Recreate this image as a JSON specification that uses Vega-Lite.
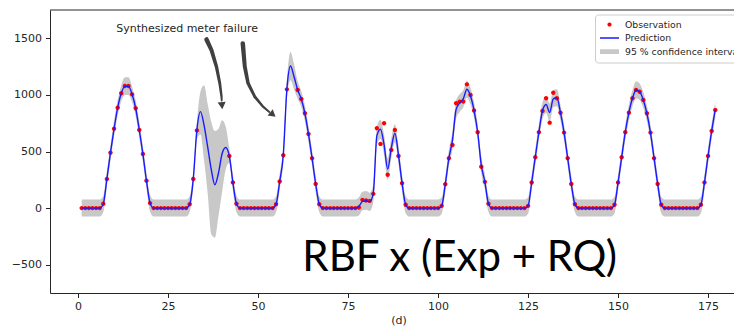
{
  "$schema": "https://vega.github.io/schema/vega-lite/v6.json",
  "width": 684,
  "height": 283,
  "autosize": {"type": "none"},
  "padding": {"left": 50, "top": 10, "right": 0, "bottom": 33},
  "background": "white",
  "config": {
    "view": {"stroke": null},
    "font": "DejaVu Sans",
    "axis": {"labelFont": "DejaVu Sans", "labelFontSize": 11, "labelColor": "#262626", "tickColor": "#262626", "domainColor": "#262626", "tickSize": 4.5, "grid": false, "titleFont": "DejaVu Sans", "titleFontSize": 11, "titleFontWeight": "normal", "titleColor": "#262626"},
    "axisX": {"labelPadding": 3, "titlePadding": 3, "titleX": 348.5, "titleAlign": "center"},
    "axisY": {"labelPadding": 4},
    "legend": {"title": null, "orient": "none", "legendX": 545, "legendY": 4.5, "padding": 5, "strokeColor": "#cccccc", "fillColor": "white", "cornerRadius": 3, "labelFont": "DejaVu Sans", "labelFontSize": 9.3, "labelColor": "#262626", "labelOffset": 6, "symbolSize": 361, "clipHeight": 10, "rowPadding": 2.5, "symbolStrokeWidth": 0, "symbolOpacity": 1}
  },
  "datasets": {
    "series": [
      {"day":1,"obs":0,"pred":0,"lo":-75,"hi":75},
      {"day":2,"obs":0,"pred":0,"lo":-75,"hi":75},
      {"day":3,"obs":0,"pred":0,"lo":-75,"hi":75},
      {"day":4,"obs":0,"pred":0,"lo":-75,"hi":75},
      {"day":5,"obs":0,"pred":0,"lo":-75,"hi":75},
      {"day":6,"obs":0,"pred":0,"lo":-75,"hi":75},
      {"day":7,"obs":38,"pred":38,"lo":-35,"hi":110},
      {"day":8,"obs":258,"pred":258,"lo":188,"hi":328},
      {"day":9,"obs":490,"pred":490,"lo":420,"hi":560},
      {"day":10,"obs":702,"pred":702,"lo":632,"hi":772},
      {"day":11,"obs":887,"pred":887,"lo":817,"hi":957},
      {"day":12,"obs":1014,"pred":1014,"lo":944,"hi":1084},
      {"day":13,"obs":1078,"pred":1075,"lo":1000,"hi":1155},
      {"day":14,"obs":1078,"pred":1075,"lo":1000,"hi":1155},
      {"day":15,"obs":1005,"pred":1005,"lo":935,"hi":1075},
      {"day":16,"obs":882,"pred":882,"lo":812,"hi":952},
      {"day":17,"obs":690,"pred":690,"lo":620,"hi":760},
      {"day":18,"obs":479,"pred":479,"lo":409,"hi":549},
      {"day":19,"obs":241,"pred":241,"lo":171,"hi":311},
      {"day":20,"obs":44,"pred":44,"lo":-30,"hi":115},
      {"day":21,"obs":0,"pred":0,"lo":-75,"hi":75},
      {"day":22,"obs":0,"pred":0,"lo":-75,"hi":75},
      {"day":23,"obs":0,"pred":0,"lo":-75,"hi":75},
      {"day":24,"obs":0,"pred":0,"lo":-75,"hi":75},
      {"day":25,"obs":0,"pred":0,"lo":-75,"hi":75},
      {"day":26,"obs":0,"pred":0,"lo":-75,"hi":75},
      {"day":27,"obs":0,"pred":0,"lo":-75,"hi":75},
      {"day":28,"obs":0,"pred":0,"lo":-75,"hi":75},
      {"day":29,"obs":0,"pred":0,"lo":-75,"hi":75},
      {"day":30,"obs":0,"pred":0,"lo":-75,"hi":75},
      {"day":31,"obs":35,"pred":35,"lo":-35,"hi":105},
      {"day":32,"obs":258,"pred":258,"lo":188,"hi":328},
      {"day":33,"obs":685,"pred":690,"lo":610,"hi":760},
      {"day":34,"obs":null,"pred":852,"lo":650,"hi":1030},
      {"day":35,"obs":null,"pred":730,"lo":420,"hi":1085},
      {"day":36,"obs":null,"pred":540,"lo":130,"hi":920},
      {"day":37,"obs":null,"pred":340,"lo":-230,"hi":760},
      {"day":38,"obs":null,"pred":205,"lo":-260,"hi":680},
      {"day":39,"obs":null,"pred":310,"lo":-70,"hi":700},
      {"day":40,"obs":null,"pred":480,"lo":140,"hi":775},
      {"day":41,"obs":null,"pred":535,"lo":340,"hi":720},
      {"day":42,"obs":461,"pred":461,"lo":400,"hi":530},
      {"day":43,"obs":226,"pred":226,"lo":156,"hi":296},
      {"day":44,"obs":38,"pred":38,"lo":-35,"hi":110},
      {"day":45,"obs":0,"pred":0,"lo":-75,"hi":75},
      {"day":46,"obs":0,"pred":0,"lo":-75,"hi":75},
      {"day":47,"obs":0,"pred":0,"lo":-75,"hi":75},
      {"day":48,"obs":0,"pred":0,"lo":-75,"hi":75},
      {"day":49,"obs":0,"pred":0,"lo":-75,"hi":75},
      {"day":50,"obs":0,"pred":0,"lo":-75,"hi":75},
      {"day":51,"obs":0,"pred":0,"lo":-75,"hi":75},
      {"day":52,"obs":0,"pred":0,"lo":-75,"hi":75},
      {"day":53,"obs":0,"pred":0,"lo":-75,"hi":75},
      {"day":54,"obs":0,"pred":0,"lo":-75,"hi":75},
      {"day":55,"obs":35,"pred":35,"lo":-35,"hi":105},
      {"day":56,"obs":235,"pred":235,"lo":165,"hi":305},
      {"day":57,"obs":467,"pred":467,"lo":397,"hi":537},
      {"day":58,"obs":1049,"pred":1050,"lo":965,"hi":1135},
      {"day":59,"obs":null,"pred":1255,"lo":1130,"hi":1380},
      {"day":60,"obs":null,"pred":1160,"lo":1050,"hi":1270},
      {"day":61,"obs":1043,"pred":1043,"lo":965,"hi":1120},
      {"day":62,"obs":964,"pred":964,"lo":894,"hi":1034},
      {"day":63,"obs":838,"pred":838,"lo":768,"hi":908},
      {"day":64,"obs":655,"pred":655,"lo":585,"hi":725},
      {"day":65,"obs":441,"pred":441,"lo":371,"hi":511},
      {"day":66,"obs":214,"pred":214,"lo":144,"hi":284},
      {"day":67,"obs":35,"pred":35,"lo":-35,"hi":105},
      {"day":68,"obs":0,"pred":0,"lo":-75,"hi":75},
      {"day":69,"obs":0,"pred":0,"lo":-75,"hi":75},
      {"day":70,"obs":0,"pred":0,"lo":-75,"hi":75},
      {"day":71,"obs":0,"pred":0,"lo":-75,"hi":75},
      {"day":72,"obs":0,"pred":0,"lo":-75,"hi":75},
      {"day":73,"obs":0,"pred":0,"lo":-75,"hi":75},
      {"day":74,"obs":0,"pred":0,"lo":-75,"hi":75},
      {"day":75,"obs":0,"pred":0,"lo":-75,"hi":75},
      {"day":76,"obs":0,"pred":0,"lo":-75,"hi":75},
      {"day":77,"obs":0,"pred":0,"lo":-75,"hi":75},
      {"day":78,"obs":5,"pred":15,"lo":-65,"hi":95},
      {"day":79,"obs":73,"pred":60,"lo":-20,"hi":145},
      {"day":80,"obs":67,"pred":65,"lo":-15,"hi":150},
      {"day":81,"obs":64,"pred":55,"lo":-25,"hi":135},
      {"day":82,"obs":126,"pred":130,"lo":50,"hi":210},
      {"day":83,"obs":705,"pred":640,"lo":560,"hi":720},
      {"day":84,"obs":567,"pred":697,"lo":610,"hi":780},
      {"day":85,"obs":750,"pred":560,"lo":470,"hi":650},
      {"day":86,"obs":294,"pred":344,"lo":250,"hi":440},
      {"day":87,"obs":514,"pred":529,"lo":440,"hi":620},
      {"day":88,"obs":690,"pred":661,"lo":580,"hi":740},
      {"day":89,"obs":461,"pred":470,"lo":390,"hi":550},
      {"day":90,"obs":220,"pred":220,"lo":145,"hi":295},
      {"day":91,"obs":29,"pred":29,"lo":-45,"hi":105},
      {"day":92,"obs":0,"pred":0,"lo":-75,"hi":75},
      {"day":93,"obs":0,"pred":0,"lo":-75,"hi":75},
      {"day":94,"obs":0,"pred":0,"lo":-75,"hi":75},
      {"day":95,"obs":0,"pred":0,"lo":-75,"hi":75},
      {"day":96,"obs":0,"pred":0,"lo":-75,"hi":75},
      {"day":97,"obs":0,"pred":0,"lo":-75,"hi":75},
      {"day":98,"obs":0,"pred":0,"lo":-75,"hi":75},
      {"day":99,"obs":0,"pred":0,"lo":-75,"hi":75},
      {"day":100,"obs":0,"pred":0,"lo":-75,"hi":75},
      {"day":101,"obs":20,"pred":20,"lo":-50,"hi":95},
      {"day":102,"obs":211,"pred":211,"lo":141,"hi":281},
      {"day":103,"obs":441,"pred":441,"lo":371,"hi":511},
      {"day":104,"obs":558,"pred":600,"lo":520,"hi":680},
      {"day":105,"obs":926,"pred":870,"lo":790,"hi":950},
      {"day":106,"obs":941,"pred":930,"lo":850,"hi":1005},
      {"day":107,"obs":941,"pred":965,"lo":890,"hi":1040},
      {"day":108,"obs":1093,"pred":1050,"lo":975,"hi":1125},
      {"day":109,"obs":999,"pred":990,"lo":915,"hi":1065},
      {"day":110,"obs":862,"pred":862,"lo":792,"hi":932},
      {"day":111,"obs":670,"pred":670,"lo":600,"hi":740},
      {"day":112,"obs":365,"pred":380,"lo":305,"hi":455},
      {"day":113,"obs":232,"pred":232,"lo":162,"hi":302},
      {"day":114,"obs":38,"pred":38,"lo":-35,"hi":110},
      {"day":115,"obs":0,"pred":0,"lo":-75,"hi":75},
      {"day":116,"obs":0,"pred":0,"lo":-75,"hi":75},
      {"day":117,"obs":0,"pred":0,"lo":-75,"hi":75},
      {"day":118,"obs":0,"pred":0,"lo":-75,"hi":75},
      {"day":119,"obs":0,"pred":0,"lo":-75,"hi":75},
      {"day":120,"obs":0,"pred":0,"lo":-75,"hi":75},
      {"day":121,"obs":0,"pred":0,"lo":-75,"hi":75},
      {"day":122,"obs":0,"pred":0,"lo":-75,"hi":75},
      {"day":123,"obs":0,"pred":0,"lo":-75,"hi":75},
      {"day":124,"obs":0,"pred":0,"lo":-75,"hi":75},
      {"day":125,"obs":20,"pred":20,"lo":-50,"hi":95},
      {"day":126,"obs":226,"pred":226,"lo":156,"hi":296},
      {"day":127,"obs":450,"pred":450,"lo":380,"hi":520},
      {"day":128,"obs":670,"pred":670,"lo":600,"hi":740},
      {"day":129,"obs":858,"pred":860,"lo":785,"hi":935},
      {"day":130,"obs":970,"pred":915,"lo":840,"hi":990},
      {"day":131,"obs":755,"pred":845,"lo":765,"hi":925},
      {"day":132,"obs":1019,"pred":965,"lo":890,"hi":1040},
      {"day":133,"obs":970,"pred":975,"lo":900,"hi":1050},
      {"day":134,"obs":843,"pred":843,"lo":773,"hi":913},
      {"day":135,"obs":667,"pred":667,"lo":597,"hi":737},
      {"day":136,"obs":441,"pred":441,"lo":371,"hi":511},
      {"day":137,"obs":214,"pred":214,"lo":144,"hi":284},
      {"day":138,"obs":35,"pred":35,"lo":-35,"hi":105},
      {"day":139,"obs":0,"pred":0,"lo":-75,"hi":75},
      {"day":140,"obs":0,"pred":0,"lo":-75,"hi":75},
      {"day":141,"obs":0,"pred":0,"lo":-75,"hi":75},
      {"day":142,"obs":0,"pred":0,"lo":-75,"hi":75},
      {"day":143,"obs":0,"pred":0,"lo":-75,"hi":75},
      {"day":144,"obs":0,"pred":0,"lo":-75,"hi":75},
      {"day":145,"obs":0,"pred":0,"lo":-75,"hi":75},
      {"day":146,"obs":0,"pred":0,"lo":-75,"hi":75},
      {"day":147,"obs":0,"pred":0,"lo":-75,"hi":75},
      {"day":148,"obs":0,"pred":0,"lo":-75,"hi":75},
      {"day":149,"obs":29,"pred":29,"lo":-45,"hi":100},
      {"day":150,"obs":226,"pred":226,"lo":156,"hi":296},
      {"day":151,"obs":450,"pred":450,"lo":380,"hi":520},
      {"day":152,"obs":670,"pred":670,"lo":600,"hi":740},
      {"day":153,"obs":843,"pred":843,"lo":773,"hi":913},
      {"day":154,"obs":970,"pred":970,"lo":900,"hi":1040},
      {"day":155,"obs":1043,"pred":1043,"lo":968,"hi":1120},
      {"day":156,"obs":1028,"pred":1028,"lo":955,"hi":1100},
      {"day":157,"obs":955,"pred":955,"lo":885,"hi":1025},
      {"day":158,"obs":838,"pred":838,"lo":768,"hi":908},
      {"day":159,"obs":667,"pred":667,"lo":597,"hi":737},
      {"day":160,"obs":441,"pred":441,"lo":371,"hi":511},
      {"day":161,"obs":214,"pred":214,"lo":144,"hi":284},
      {"day":162,"obs":29,"pred":29,"lo":-45,"hi":100},
      {"day":163,"obs":0,"pred":0,"lo":-75,"hi":75},
      {"day":164,"obs":0,"pred":0,"lo":-75,"hi":75},
      {"day":165,"obs":0,"pred":0,"lo":-75,"hi":75},
      {"day":166,"obs":0,"pred":0,"lo":-75,"hi":75},
      {"day":167,"obs":0,"pred":0,"lo":-75,"hi":75},
      {"day":168,"obs":0,"pred":0,"lo":-75,"hi":75},
      {"day":169,"obs":0,"pred":0,"lo":-75,"hi":75},
      {"day":170,"obs":0,"pred":0,"lo":-75,"hi":75},
      {"day":171,"obs":0,"pred":0,"lo":-75,"hi":75},
      {"day":172,"obs":0,"pred":0,"lo":-75,"hi":75},
      {"day":173,"obs":29,"pred":29,"lo":-45,"hi":100},
      {"day":174,"obs":226,"pred":226,"lo":156,"hi":296},
      {"day":175,"obs":461,"pred":461,"lo":391,"hi":531},
      {"day":176,"obs":681,"pred":681,"lo":611,"hi":751},
      {"day":177,"obs":867,"pred":867,"lo":797,"hi":937}
    ],
    "arrows": [
      {"arrow":1,"step":0,"x":35.67,"y":1490},
      {"arrow":1,"step":1,"x":37.06,"y":1396},
      {"arrow":1,"step":2,"x":38.44,"y":1249},
      {"arrow":1,"step":3,"x":39.36,"y":1102},
      {"arrow":1,"step":4,"x":39.83,"y":990},
      {"arrow":1,"step":5,"x":39.9,"y":950},
      {"arrow":2,"step":0,"x":45.75,"y":1455},
      {"arrow":2,"step":1,"x":46.31,"y":1249},
      {"arrow":2,"step":2,"x":47.22,"y":1102},
      {"arrow":2,"step":3,"x":49.08,"y":984},
      {"arrow":2,"step":4,"x":51.39,"y":896},
      {"arrow":2,"step":5,"x":53.11,"y":849}
    ]
  },
  "layer": [
    {
      "data": {"name": "series"},
      "mark": {"type": "area", "interpolate": "monotone", "opacity": 1},
      "encoding": {
        "x": {"field": "day", "type": "quantitative", "scale": {"domain": [-7.8, 182.2], "nice": false, "zero": false}, "axis": {"values": [0, 25, 50, 75, 100, 125, 150, 175], "title": "(d)"}},
        "y": {"field": "lo", "type": "quantitative", "scale": {"domain": [-750, 1750], "nice": false, "zero": false}, "axis": {"values": [-500, 0, 500, 1000, 1500], "format": "d", "title": null}},
        "y2": {"field": "hi"},
        "color": {
          "datum": "95 % confidence interval",
          "scale": {"domain": ["Observation", "Prediction", "95 % confidence interval"], "range": ["#ff0000", "#1a1aff", "#c8c8c8"]},
          "legend": {"title": null}
        }
      }
    },
    {
      "data": {"name": "series"},
      "mark": {"type": "point", "filled": true, "size": 400, "opacity": 1},
      "encoding": {
        "x": {"field": "day", "type": "quantitative", "title": "(d)"},
        "y": {"field": "obs", "type": "quantitative", "title": null},
        "color": {"datum": "Observation"},
        "shape": {
          "datum": "Observation",
          "scale": {"domain": ["Observation", "Prediction", "95 % confidence interval"], "range": ["M-0.22,0A0.22,0.22,0,1,1,0.22,0A0.22,0.22,0,1,1,-0.22,0Z", "M-1,-0.075L1,-0.075L1,0.075L-1,0.075Z", "M-1,-0.25L1,-0.25L1,0.25L-1,0.25Z"]},
          "legend": {"title": null}
        }
      }
    },
    {
      "data": {"name": "series"},
      "mark": {"type": "line", "interpolate": "monotone", "strokeWidth": 1.4},
      "encoding": {
        "x": {"field": "day", "type": "quantitative", "title": "(d)"},
        "y": {"field": "pred", "type": "quantitative", "title": null},
        "color": {"datum": "Prediction"}
      }
    },
    {
      "data": {"values": [{}]},
      "mark": {"type": "rule", "color": "#262626", "strokeWidth": 1},
      "encoding": {"y": {"datum": 1750}}
    },
    {
      "data": {"name": "arrows"},
      "mark": {"type": "trail", "color": "#404040"},
      "encoding": {
        "x": {"field": "x", "type": "quantitative", "title": "(d)"},
        "y": {"field": "y", "type": "quantitative", "title": null},
        "detail": {"field": "arrow"},
        "order": {"field": "step"},
        "size": {"field": "step", "type": "quantitative", "scale": {"domain": [0, 5], "range": [4.5, 1.8]}, "legend": null}
      }
    },
    {
      "data": {"values": [{}]},
      "mark": {"type": "point", "shape": "triangle-down", "filled": true, "color": "#404040", "size": 65, "angle": 355, "opacity": 1},
      "encoding": {"x": {"datum": 39.97}, "y": {"datum": 905}}
    },
    {
      "data": {"values": [{}]},
      "mark": {"type": "point", "shape": "triangle-down", "filled": true, "color": "#404040", "size": 65, "angle": 310, "opacity": 1},
      "encoding": {"x": {"datum": 54.1}, "y": {"datum": 826}}
    },
    {
      "data": {"values": [{}]},
      "mark": {"type": "text", "font": "DejaVu Sans", "fontSize": 11, "color": "#262626", "align": "center", "baseline": "middle"},
      "encoding": {"x": {"datum": 30.3}, "y": {"datum": 1582}, "text": {"value": "Synthesized meter failure"}}
    },
    {
      "data": {"values": [{}]},
      "mark": {"type": "text", "font": "Lato", "fontSize": 42, "color": "#000000", "align": "center", "baseline": "alphabetic"},
      "encoding": {"x": {"datum": 106}, "y": {"datum": -559}, "text": {"value": "RBF x (Exp + RQ)"}}
    }
  ]
}
